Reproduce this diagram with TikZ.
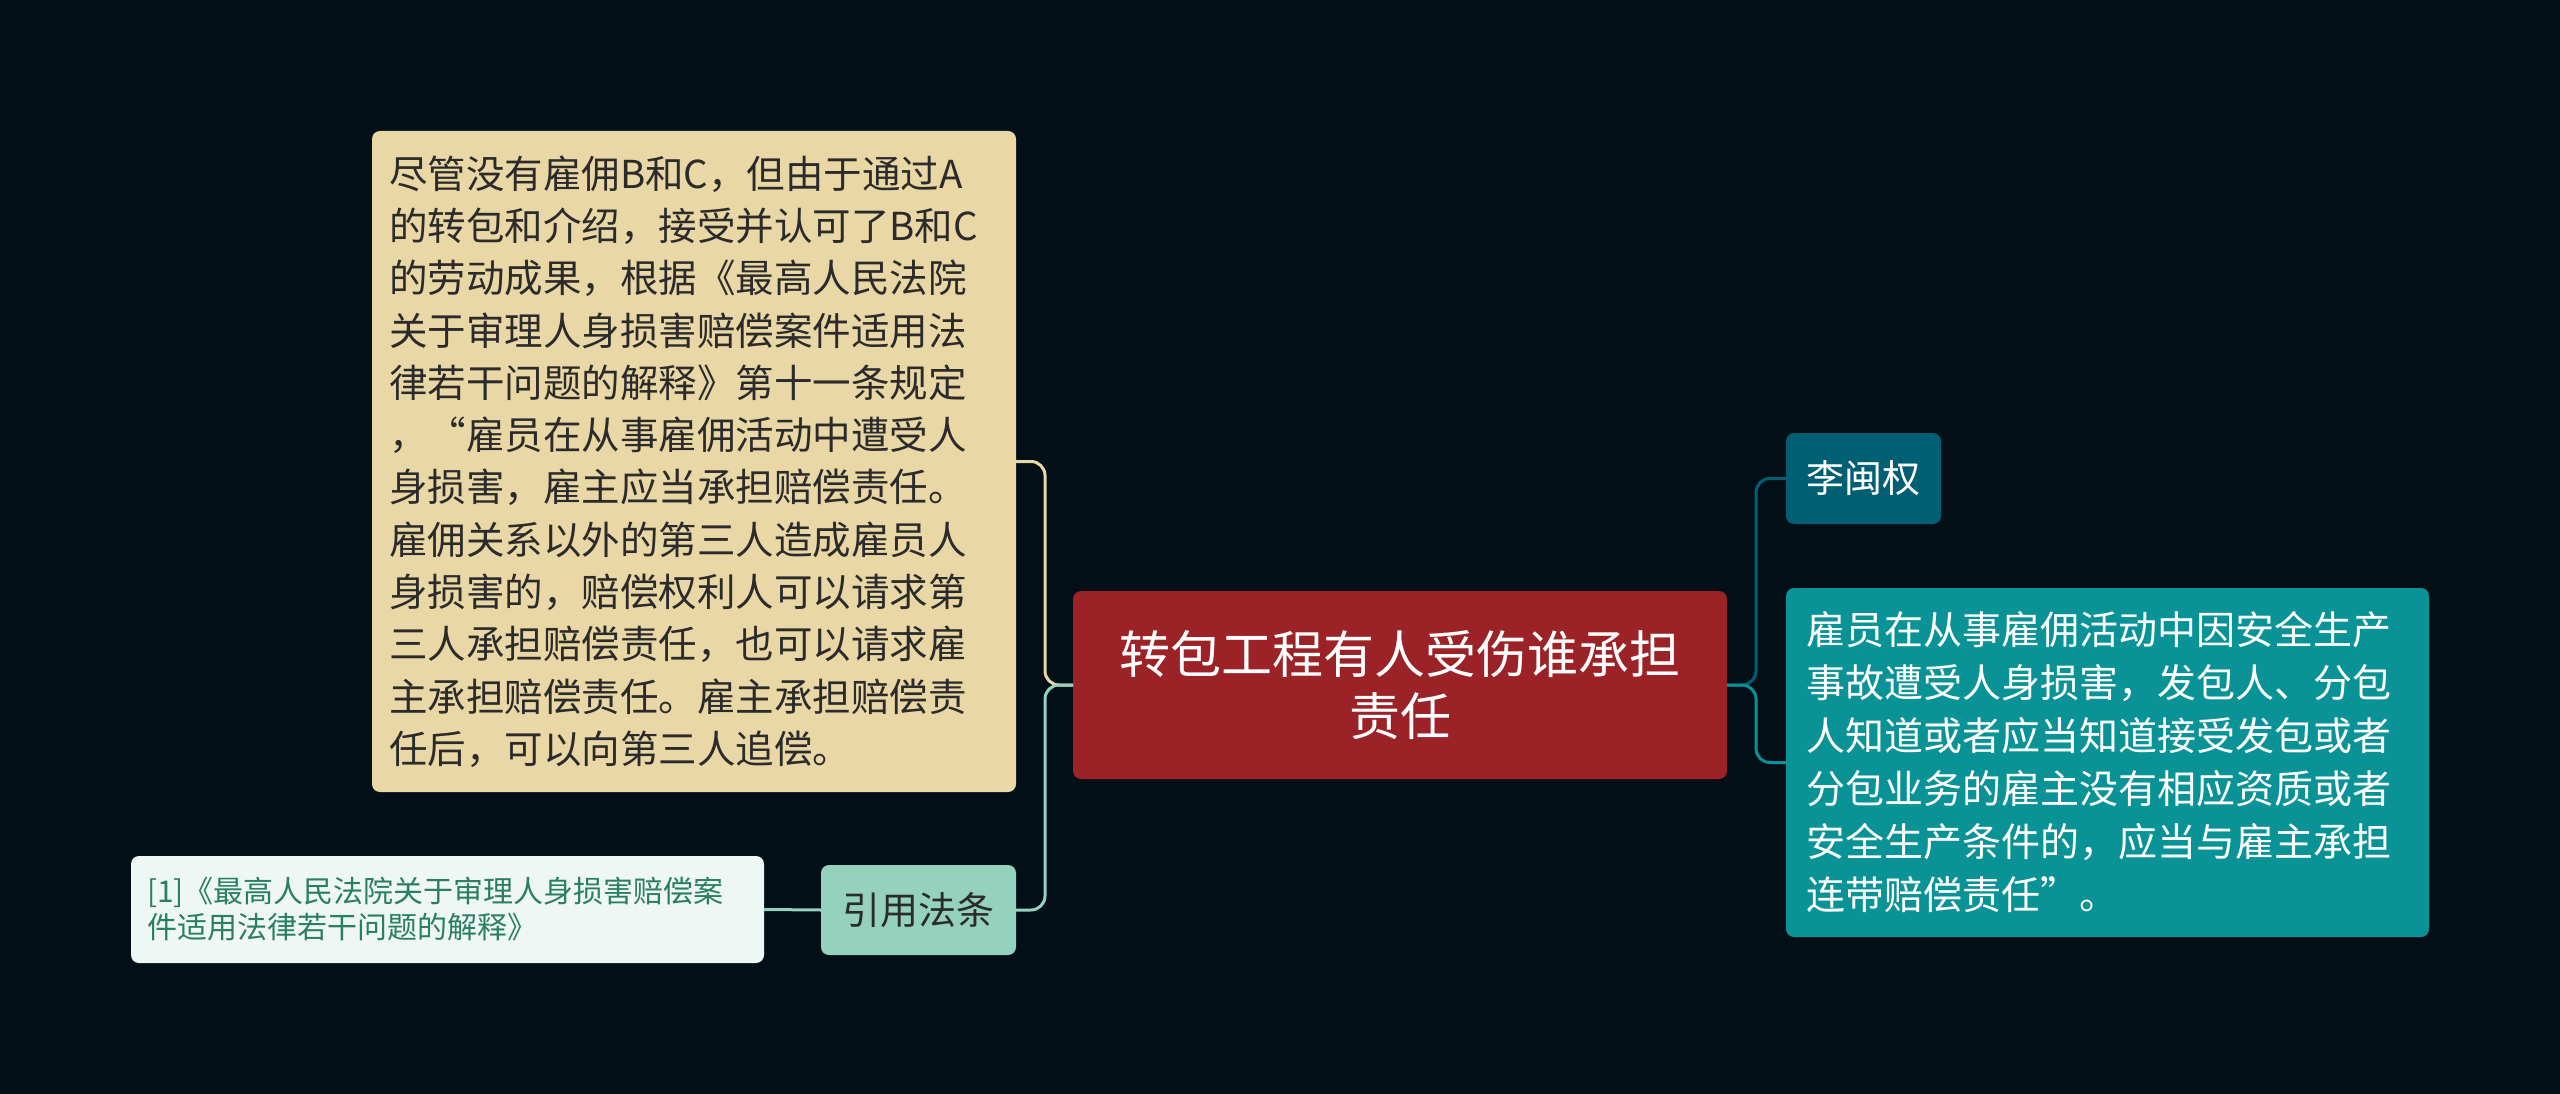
\documentclass[tikz,border=0pt]{standalone}
\usepackage{fontspec}
\setmainfont{Noto Sans CJK SC}
\definecolor{bg}{HTML}{020F16}
\definecolor{cred}{HTML}{9B2226}
\definecolor{cyel}{HTML}{E9D8A6}
\definecolor{cgrn}{HTML}{94D2BD}
\definecolor{cdteal}{HTML}{005F73}
\definecolor{cteal}{HTML}{0A9396}
\definecolor{cnote}{HTML}{EEF7F3}
\definecolor{cnotetxt}{HTML}{2A7F62}
\definecolor{ctxt}{HTML}{2B2B2B}
\tikzset{
  box/.style={rounded corners=8pt, inner ysep=0pt, outer sep=0pt},
  link/.style={line width=3pt, rounded corners=14pt},
}
\begin{document}
\begin{tikzpicture}[x=1pt,y=-1pt]
\useasboundingbox (0,0) rectangle (2560,1094);
\fill[bg] (0,0) rectangle (2560,1094);

% central
\node[box, fill=cred, text=white, minimum width=654pt, minimum height=188pt, align=center,
  font=\fontsize{51}{62}\selectfont] (c) at (1400,685) {转包工程有人受伤谁承担\\责任};

% yellow text box
\node[box, fill=cyel, text=ctxt, inner xsep=17pt, text width=610pt, minimum height=661pt, align=left,
  font=\fontsize{38.5}{52.3}\selectfont] (y) at (694,461.5) {尽管没有雇佣B和C，但由于通过A\\的转包和介绍，接受并认可了B和C\\的劳动成果，根据《最高人民法院\\关于审理人身损害赔偿案件适用法\\律若干问题的解释》第十一条规定\\，“雇员在从事雇佣活动中遭受人\\身损害，雇主应当承担赔偿责任。\\雇佣关系以外的第三人造成雇员人\\身损害的，赔偿权利人可以请求第\\三人承担赔偿责任，也可以请求雇\\主承担赔偿责任。雇主承担赔偿责\\任后，可以向第三人追偿。};

% citation label
\node[box, fill=cgrn, text=ctxt, minimum width=195pt, minimum height=90pt, align=center,
  font=\fontsize{38}{46}\selectfont] (f) at (918.5,910) {引用法条};

% reference note
\node[box, fill=cnote, text=cnotetxt, inner xsep=16pt, text width=601pt, minimum height=107pt, align=left,
  font=\fontsize{30}{36}\selectfont] (r) at (447.5,909.5) {[1]《最高人民法院关于审理人身损害赔偿案\\件适用法律若干问题的解释》};

% Li
\node[box, fill=cdteal, text=white, minimum width=155pt, minimum height=91pt, align=center,
  font=\fontsize{38}{46}\selectfont] (l) at (1863.5,478.5) {李闽权};

% teal text box
\node[box, fill=cteal, text=white, inner xsep=20pt, text width=603pt, minimum height=349pt, align=left,
  font=\fontsize{39}{53}\selectfont] (t) at (2107.5,762.5) {雇员在从事雇佣活动中因安全生产\\事故遭受人身损害，发包人、分包\\人知道或者应当知道接受发包或者\\分包业务的雇主没有相应资质或者\\安全生产条件的，应当与雇主承担\\连带赔偿责任”。};

% connectors
\draw[link, cyel] (c.west) -- ++(-28,0) |- (y.east);
\draw[link, cgrn] (c.west) -- ++(-28,0) |- (f.east);
\draw[link, cgrn] (f.west) -- (r.east);
\draw[link, cdteal] (c.east) -- ++(29,0) |- (l.west);
\draw[link, cteal] (c.east) -- ++(29,0) |- (t.west);
\end{tikzpicture}
\end{document}
